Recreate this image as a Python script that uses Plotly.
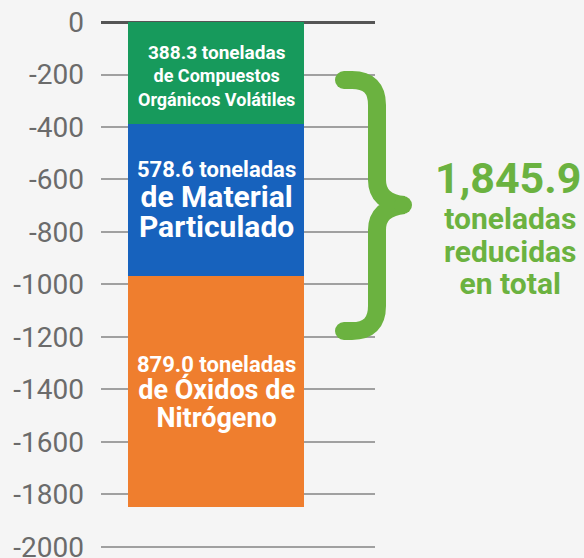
import plotly.graph_objects as go

# ---- data ----
categories = ["Compuestos Orgánicos Volátiles", "Material Particulado", "Óxidos de Nitrógeno"]
values = [388.3, 578.6, 879.0]
label_lines = [
    ["de Compuestos", "Orgánicos Volátiles"],
    ["de Material", "Particulado"],
    ["de Óxidos de", "Nitrógeno"],
]
tick_vals = [0, -200, -400, -600, -800, -1000, -1200, -1400, -1600, -1800, -2000]
tick_text = ["0", "-200", "-400", "-600", "-800", "-1000", "-1200", "-1400", "-1600", "-1800", "-2000"]
total_lines = ["toneladas", "reducidas", "en total"]

# ---- styles ----
bar_colors = ["#179a5c", "#1762bd", "#ef7e2e"]
brace_color = "#6bb240"
W, H = 584, 558
ML, MR, MT, MB = 101, 209, 22, 10
PW, PH = W - ML - MR, H - MT - MB
BAR_X, BAR_W = 0.42, 0.6425
Y_RANGE = [-2004, 0]

# label styles per segment: (first-line size, other-lines size, base size for spacing, yshift px)
label_sizes = [(19, 18, 18, -3), (22, 30, 23, -1), (22, 27, 21, -2)]


def px(x):
    return (x - ML) / PW


def py(y):
    return (H - MB - y) / PH


fig = go.Figure()
for cat, v, c in zip(categories, values, bar_colors):
    fig.add_trace(go.Bar(
        x=[BAR_X], y=[-v], width=[BAR_W], name=cat,
        marker=dict(color=c, line=dict(width=0)),
        hoverinfo="name+y", showlegend=False,
    ))

# labels inside bars
top = 0.0
for v, lines, (s1, s2, sb, ys) in zip(values, label_lines, label_sizes):
    mid = top - v / 2
    top -= v
    txt = f"<b><span style='font-size:{s1}px'>{v:.1f} toneladas</span></b>"
    for ln in lines:
        txt += f"<br><b><span style='font-size:{s2}px'>{ln}</span></b>"
    fig.add_annotation(
        x=BAR_X, y=mid, xref="x", yref="y", text=txt, showarrow=False,
        font=dict(family="Roboto", size=sb, color="white"),
        align="center", xanchor="center", yanchor="middle", yshift=ys,
    )

# brace
path_pts = (
    f"M {px(344)},{py(80)} L {px(352)},{py(80)} "
    f"Q {px(377)},{py(80)} {px(377)},{py(105)} "
    f"L {px(377)},{py(180)} "
    f"Q {px(377)},{py(202)} {px(404)},{py(205)} "
    f"Q {px(377)},{py(208)} {px(377)},{py(230)} "
    f"L {px(377)},{py(306)} "
    f"Q {px(377)},{py(331)} {px(352)},{py(331)} "
    f"L {px(344)},{py(331)}"
)
fig.add_shape(type="path", path=path_pts, xref="paper", yref="paper",
              line=dict(color=brace_color, width=18), layer="above")
r = 9
for cx, cy in [(344, 80), (344, 331), (403, 205)]:
    fig.add_shape(type="circle", xref="paper", yref="paper",
                  x0=px(cx - r), x1=px(cx + r), y0=py(cy + r), y1=py(cy - r),
                  fillcolor=brace_color, line=dict(width=0), layer="above")

total = sum(values)
fig.add_annotation(
    x=px(508), y=py(178), xref="paper", yref="paper",
    text=f"<b>{total:,.1f}</b>", showarrow=False,
    font=dict(family="Roboto", size=43, color=brace_color),
    xanchor="center", yanchor="middle",
)
fig.add_annotation(
    x=px(510), y=py(251), xref="paper", yref="paper",
    text="<br>".join(f"<b><span style='font-size:30px'>{t}</span></b>" for t in total_lines),
    showarrow=False,
    font=dict(family="Roboto", size=25, color=brace_color),
    xanchor="center", yanchor="middle", align="center",
)

fig.update_layout(
    width=W, height=H, autosize=False,
    margin=dict(l=ML, r=MR, t=MT, b=MB, autoexpand=False),
    paper_bgcolor="#f5f5f5", plot_bgcolor="#f5f5f5",
    barmode="relative", bargap=0,
    xaxis=dict(range=[0, 1], visible=False, fixedrange=True, automargin=False),
    yaxis=dict(
        range=Y_RANGE, tickvals=tick_vals, ticktext=tick_text,
        showgrid=True, gridcolor="#a0a0a0", gridwidth=1.5,
        zeroline=True, zerolinecolor="#555555", zerolinewidth=2.5,
        showline=False, ticks="", ticklabelstandoff=16,
        ticklabeloverflow="allow", automargin=False,
        tickfont=dict(family="Roboto", size=28, color="#6b6b6b"),
        fixedrange=True,
    ),
)

fig.write_html(
    "out.html",
    config={"displayModeBar": False},
    post_script="document.body.style.margin='0';document.body.style.background='#f5f5f5';",
)
